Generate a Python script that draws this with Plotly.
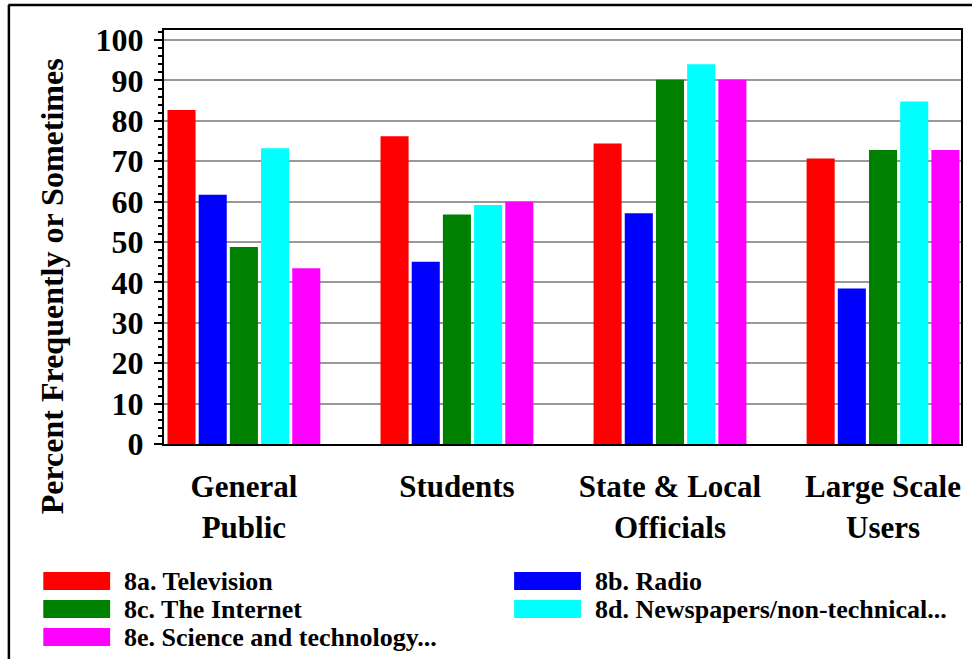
import plotly.graph_objects as go

categories = ["General<br>Public", "Students", "State & Local<br>Officials", "Large Scale<br>Users"]
series_names = ["8a. Television", "8b. Radio", "8c. The Internet",
                "8d. Newspapers/non-technical...", "8e. Science and technology..."]
series_colors = ["#FF0000", "#0000FF", "#008000", "#00FFFF", "#FF00FF"]
television = [82.7, 76.2, 74.4, 70.7]
radio = [61.7, 45.1, 57.1, 38.5]
internet = [48.8, 56.8, 90.2, 72.8]
newspapers = [73.2, 59.2, 94.0, 84.8]
science_tech = [43.5, 60.0, 90.2, 72.8]
series_values = [television, radio, internet, newspapers, science_tech]
y_ticks = [0, 10, 20, 30, 40, 50, 60, 70, 80, 90, 100]

W, H = 974, 659
L, R, T, B = 164, 963, 30, 444  # plot area in pixels

def px2x(px):
    return (px - L) / (R - L)

def px2y(py):
    return (B - py) / (B - T)

FONT = "Liberation Serif"
xpos = list(range(len(categories)))

fig = go.Figure()
for name, color, vals in zip(series_names, series_colors, series_values):
    fig.add_trace(go.Bar(x=xpos, y=vals, name=name, marker=dict(color=color, line=dict(width=0)),
                         showlegend=False))

fig.update_layout(
    width=W, height=H,
    margin=dict(l=L, r=W - R, t=T, b=H - B, pad=0),
    paper_bgcolor="white", plot_bgcolor="white",
    barmode="group", bargap=0.268, bargroupgap=0.1,
    font=dict(family=FONT, color="black"),
)
fig.update_xaxes(
    range=[-0.375, 3.366], tickvals=xpos, ticktext=categories,
    showline=True, linecolor="black", linewidth=2, mirror=True,
    ticks="", showgrid=False, zeroline=False,
    tickfont=dict(family=FONT, size=31, weight="bold", color="black"),
    ticklabelstandoff=14,
)
fig.update_yaxes(
    range=[0, 102.5], tickvals=y_ticks,
    showline=True, linecolor="black", linewidth=2, mirror=True,
    ticks="outside", ticklen=8, tickwidth=2, tickcolor="black",
    minor=dict(dtick=2, ticks="outside", ticklen=4, tickwidth=1.5, tickcolor="black", showgrid=False),
    showgrid=True, gridcolor="#999999", gridwidth=2, zeroline=False,
    tickfont=dict(family=FONT, size=32, weight="bold", color="black"),
    ticklabelstandoff=4,
)

# y-axis title
fig.add_annotation(text="Percent Frequently or Sometimes", textangle=-90,
                   xref="paper", yref="paper", x=px2x(52), y=px2y(286),
                   xanchor="center", yanchor="middle", showarrow=False,
                   font=dict(family=FONT, size=32, weight="bold", color="black"))

# outer frame (top and left edges)
fig.add_shape(type="line", xref="paper", yref="paper", x0=px2x(8), x1=px2x(974),
              y0=px2y(5), y1=px2y(5), line=dict(color="black", width=2.5))
fig.add_shape(type="line", xref="paper", yref="paper", x0=px2x(8.5), x1=px2x(8.5),
              y0=px2y(5), y1=px2y(665), line=dict(color="black", width=2.5))

# custom legend
sw_x = [43, 515]
row_y = [572, 600, 628]
for i, (name, color) in enumerate(zip(series_names, series_colors)):
    col, row = i % 2, i // 2
    x0 = sw_x[col]
    y0 = row_y[row]
    fig.add_shape(type="rect", xref="paper", yref="paper",
                  x0=px2x(x0), x1=px2x(x0 + 67), y0=px2y(y0), y1=px2y(y0 + 18),
                  fillcolor=color, line=dict(width=0))
    fig.add_annotation(text=name, xref="paper", yref="paper",
                       x=px2x(x0 + 79), y=px2y(y0 + 9.5), xanchor="left", yanchor="middle",
                       showarrow=False,
                       font=dict(family=FONT, size=26, weight="bold", color="black"))

fig.write_html("out.html", config={"displayModeBar": False},
               post_script="document.body.style.margin='0';document.body.style.overflow='hidden';")
